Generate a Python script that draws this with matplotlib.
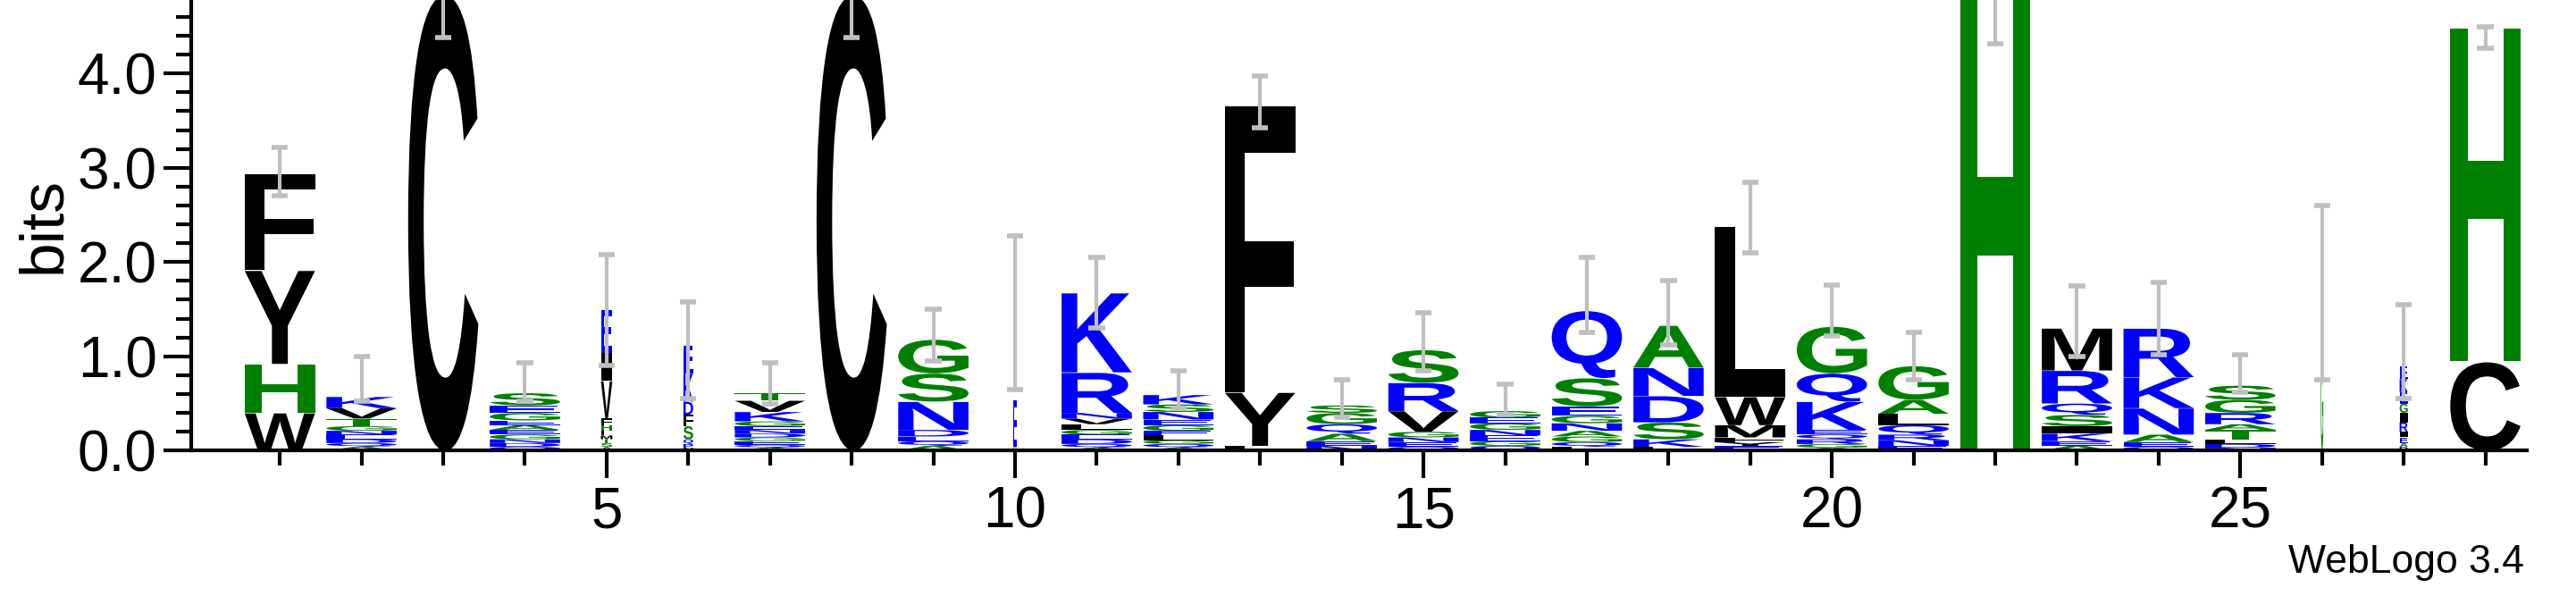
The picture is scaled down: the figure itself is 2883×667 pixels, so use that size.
import matplotlib
matplotlib.use("Agg")
import matplotlib.pyplot as plt
from matplotlib.textpath import TextPath
from matplotlib.patches import PathPatch
from matplotlib.font_manager import FontProperties
from matplotlib.transforms import Affine2D
from matplotlib.ticker import MultipleLocator

# letter stacks per position, bottom to top, with heights in bits
stacks = [
    ("WHYF", [0.40, 0.52, 1.00, 1.03]),
    ("AQDENGTVK", [0.04, 0.04, 0.04, 0.05, 0.04, 0.05, 0.08, 0.11, 0.12]),
    ("C", [4.90]),
    ("QDNGEAEGES", [0.04, 0.04, 0.04, 0.05, 0.05, 0.05, 0.05, 0.08, 0.08, 0.13]),
    ("ASTMLHFVIE", [0.04, 0.04, 0.04, 0.04, 0.05, 0.06, 0.07, 0.40, 0.30, 0.46]),
    ("NPQSFDKE", [0.03, 0.04, 0.05, 0.14, 0.12, 0.14, 0.30, 0.30]),
    ("AQEGDNEGKVT", [0.03, 0.03, 0.04, 0.04, 0.04, 0.04, 0.04, 0.05, 0.10, 0.12, 0.08]),
    ("C", [4.90]),
    ("AQEDNSG", [0.05, 0.05, 0.05, 0.07, 0.30, 0.30, 0.36]),
    ("GE", [0.04, 0.50]),
    ("AQDEGLVNRK", [0.03, 0.04, 0.05, 0.05, 0.05, 0.06, 0.06, 0.06, 0.43, 0.85]),
    ("AQGLEGENSK", [0.03, 0.04, 0.04, 0.05, 0.05, 0.06, 0.06, 0.08, 0.08, 0.10]),
    ("LYF", [0.05, 0.57, 3.08]),
    ("NEAQGS", [0.05, 0.05, 0.08, 0.10, 0.12, 0.08]),
    ("QENGVRS", [0.04, 0.05, 0.05, 0.06, 0.22, 0.30, 0.35]),
    ("QGENGEG", [0.05, 0.05, 0.06, 0.06, 0.07, 0.06, 0.07]),
    ("LQGANGESQ", [0.04, 0.05, 0.06, 0.06, 0.08, 0.08, 0.10, 0.30, 0.72]),
    ("LKSDNA", [0.04, 0.08, 0.18, 0.28, 0.30, 0.45]),
    ("DEYFMWL", [0.02, 0.03, 0.04, 0.05, 0.13, 0.30, 1.83]),
    ("AGRQEKQG", [0.03, 0.04, 0.05, 0.05, 0.05, 0.30, 0.30, 0.50]),
    ("ENRQLAG", [0.05, 0.06, 0.06, 0.10, 0.12, 0.15, 0.36]),
    ("H", [4.90]),
    ("AEKISQRM", [0.05, 0.05, 0.08, 0.08, 0.12, 0.12, 0.35, 0.45]),
    ("QEANKR", [0.04, 0.05, 0.08, 0.28, 0.33, 0.52]),
    ("NDLTARGS", [0.03, 0.04, 0.05, 0.10, 0.06, 0.12, 0.14, 0.15]),
    ("G", [1.00]),
    ("DAEIRIGEKE", [0.04, 0.04, 0.06, 0.06, 0.10, 0.10, 0.10, 0.12, 0.14, 0.14]),
    ("CH", [0.95, 3.58]),
]
positions = list(range(1, len(stacks) + 1))
err_low = [2.70, 0.52, 4.38, 0.52, 0.90, 0.55, 0.50, 4.38, 0.95, 0.65, 1.30,
           0.45, 3.42, 0.35, 0.85, 0.38, 1.25, 1.12, 2.10, 1.22, 0.75, 4.32,
           1.00, 1.02, 0.62, 0.75, 0.55, 4.27]
err_high = [3.22, 1.00, 4.80, 0.93, 2.08, 1.58, 0.93, 4.80, 1.50, 2.28, 2.05,
            0.85, 3.97, 0.75, 1.46, 0.70, 2.05, 1.80, 2.85, 1.76, 1.25, 4.80,
            1.75, 1.78, 1.02, 2.60, 1.55, 4.50]
# columns drawn narrow (few sequences)
col_width = {5: 0.14, 6: 0.12, 10: 0.04, 26: 0.03, 27: 0.10}

GREEN = "#008000"
BLUE = "#0000ff"
colors = {c: GREEN for c in "HGSAT"}
colors.update({c: BLUE for c in "KRQNDEP"})

font = FontProperties(family="Liberation Sans", weight="bold")
glyphs = {}


def draw_letter(ax, letter, x, y, w, h):
    if letter not in glyphs:
        glyphs[letter] = TextPath((0, 0), letter, size=1, prop=font)
    path = glyphs[letter]
    ext = path.get_extents()
    tr = (Affine2D().translate(-ext.x0, -ext.y0)
          .scale(w / ext.width, h / ext.height)
          .translate(x - w / 2, y))
    ax.add_patch(PathPatch(tr.transform_path(path), lw=0,
                           fc=colors.get(letter, "black"), clip_on=True))


plt.rcParams["font.family"] = ["Liberation Sans", "DejaVu Sans"]
fig = plt.figure(figsize=(28.83, 6.67), dpi=100)
ax = fig.add_axes([0.0744, 0.244, 0.9066, 0.756])

for pos, (letters, heights) in zip(positions, stacks):
    w = col_width.get(pos, 0.86)
    y = 0.0
    for letter, h in zip(letters, heights):
        draw_letter(ax, letter, pos, y, w, h * 0.985)
        y += h

ax.vlines(positions, err_low, err_high, color="#bfbfbf", lw=3, zorder=3)
ax.hlines(err_low + err_high, [p - 0.1 for p in positions] * 2,
          [p + 0.1 for p in positions] * 2, color="#bfbfbf", lw=4, zorder=3)

ax.set_xlim(-0.08, 28.51)
ax.set_ylim(0, 4.78)
for s in ["top", "right"]:
    ax.spines[s].set_visible(False)
for s in ["left", "bottom"]:
    ax.spines[s].set_linewidth(3)
ax.yaxis.set_minor_locator(MultipleLocator(0.2))
ax.set_yticks([0, 1, 2, 3, 4])
ax.set_yticklabels(["0.0", "1.0", "2.0", "3.0", "4.0"])
ax.set_xticks([5, 10, 15, 20, 25])
ax.set_xticks(positions, minor=True)
ax.tick_params(which="major", direction="out", length=22, width=3, labelsize=46, pad=6)
ax.tick_params(which="minor", direction="out", length=12, width=3)
ax.set_ylabel("bits", fontsize=50, labelpad=4)
fig.text(0.98, 0.025, "WebLogo 3.4", ha="right", va="bottom", fontsize=32)

fig.savefig("out.png", dpi=100)
